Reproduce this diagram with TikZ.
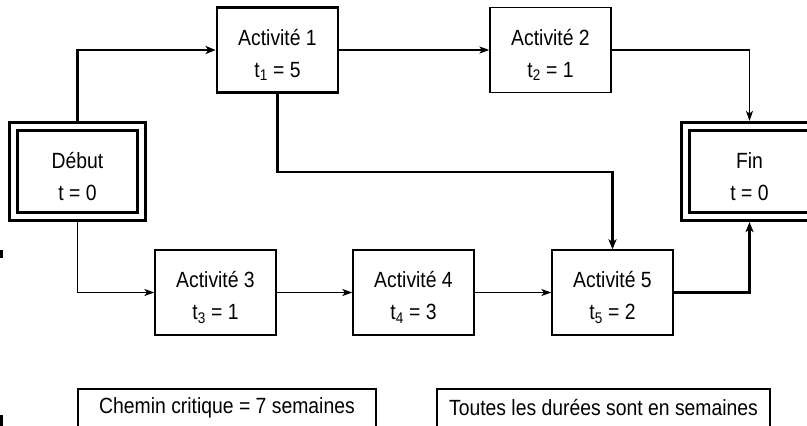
\documentclass[tikz,border=0pt]{standalone}
\usepackage{fontspec}
\setmainfont{Liberation Sans}[FakeStretch=0.88]
\usetikzlibrary{arrows.meta}
\newcommand{\hautligne}{\rule{0pt}{26pt}}
\begin{document}
\begin{tikzpicture}[x=1pt,y=-1pt,
  every node/.style={align=center,font=\fontsize{22}{32}\selectfont,inner sep=0pt},
  actbox/.style={draw,line width=1.3pt,minimum width=121pt,minimum height=85pt,outer sep=0.65pt},
  critbox/.style={actbox,line width=2.8pt,outer sep=1.4pt},
  endbox/.style={draw,line width=2.8pt,double,double distance=5.5pt,minimum width=128pt,minimum height=90pt,outer sep=5.55pt},
  notebox/.style={draw,line width=1.3pt,minimum height=38pt},
  thin line/.style={line width=1.3pt,-{Stealth[length=10pt,width=7pt,inset=2.5pt]}},
  thick line/.style={line width=2.8pt,-{Stealth[length=10pt,width=8pt,inset=2.5pt]}}
  ]
    \useasboundingbox (0,0) rectangle (807,426);

    \node[endbox]   (debut) at (77.5,171.5) {\hautligne Début\\t = 0};
    \node[critbox]  (act1)  at (277.5,50)   {\hautligne Activité 1\\t\textsubscript{1} = 5};
    \node[actbox]   (act2)  at (550.5,50)   {\hautligne Activité 2\\t\textsubscript{2} = 1};
    \node[endbox]   (fin)   at (749.5,171.5) {\hautligne Fin\\t = 0};
    \node[actbox]   (act3)  at (215.5,292.5) {\hautligne Activité 3\\t\textsubscript{3} = 1};
    \node[actbox]   (act4)  at (413.5,292.5) {\hautligne Activité 4\\t\textsubscript{4} = 3};
    \node[actbox]   (act5)  at (612.5,292.5) {\hautligne Activité 5\\t\textsubscript{5} = 2};
    \node[notebox,minimum width=298pt] (chemin) at (227,408) {Chemin critique = 7 semaines};
    \node[notebox,minimum width=333pt] (unite)  at (603.5,408) {Toutes les durées sont en semaines};
    \coordinate (coude) at (277.5,172);

    \draw[thick line] (debut.north) |- (act1.west);
    \draw[thin line]  (act1.east) -- (act2.west);
    \draw[thin line]  (act2.east) -| (fin.north);
    \draw[thick line] (act1.south) -- (coude) -| (act5.north);
    \draw[thin line]  (debut.south) |- (act3.west);
    \draw[thin line]  (act3.east) -- (act4.west);
    \draw[thin line]  (act4.east) -- (act5.west);
    \draw[thick line] (act5.east) -| (fin.south);

    \fill (0,250) rectangle (2.5,258);
    \fill (0,415) rectangle (2.5,426);
\end{tikzpicture}
\end{document}
